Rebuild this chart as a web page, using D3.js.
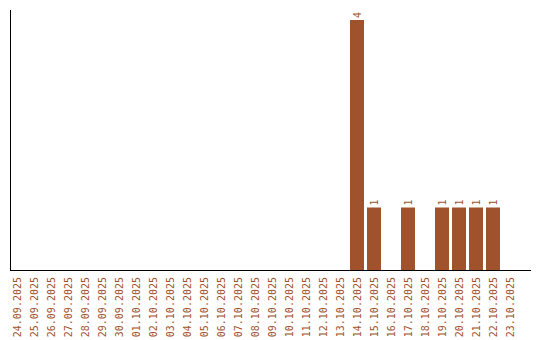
<!DOCTYPE html>
<html>
<head>
<meta charset="utf-8">
<script src="https://cdn.jsdelivr.net/npm/d3@7"></script>
<style>
  html, body { margin: 0; padding: 0; background: #fff; }
  text { font-family: "DejaVu Sans Mono", monospace; font-size: 10px; fill: #a0522d; }
</style>
</head>
<body>
<div id="chart"></div>
<script>
const dates = [
    "24.09.2025", "25.09.2025", "26.09.2025", "27.09.2025", "28.09.2025",
    "29.09.2025", "30.09.2025", "01.10.2025", "02.10.2025", "03.10.2025",
    "04.10.2025", "05.10.2025", "06.10.2025", "07.10.2025", "08.10.2025",
    "09.10.2025", "10.10.2025", "11.10.2025", "12.10.2025", "13.10.2025",
    "14.10.2025", "15.10.2025", "16.10.2025", "17.10.2025", "18.10.2025",
    "19.10.2025", "20.10.2025", "21.10.2025", "22.10.2025", "23.10.2025"
];
const counts = [
    0, 0, 0, 0, 0, 0, 0, 0, 0, 0,
    0, 0, 0, 0, 0, 0, 0, 0, 0, 0,
    4, 1, 0, 1, 0, 1, 1, 1, 1, 0
];

const svgWidth = 540;
const svgHeight = 340;
const plot = { left: 10, top: 10, bottom: 270, axisEnd: 531, bandEnd: 517 };
const barColor = "#a0522d";

const data = dates.map((d, i) => ({ date: d, count: counts[i] }));

const svg = d3.select("#chart")
    .append("svg")
    .attr("width", svgWidth)
    .attr("height", svgHeight);

const xScale = d3.scaleBand()
    .domain(dates)
    .range([plot.left, plot.bandEnd])
    .paddingInner(3 / 17)
    .paddingOuter(0);

const yScale = d3.scaleLinear()
    .domain([0, d3.max(counts) * 1.04])
    .range([plot.bottom, plot.top]);

// Bars
svg.selectAll("rect.bar")
    .data(data.filter(d => d.count > 0))
    .join("rect")
    .attr("class", "bar")
    .attr("x", d => xScale(d.date))
    .attr("y", d => yScale(d.count))
    .attr("width", xScale.bandwidth())
    .attr("height", d => plot.bottom - yScale(d.count))
    .style("fill", barColor);

// Value labels
svg.selectAll("text.value")
    .data(data.filter(d => d.count > 0))
    .join("text")
    .attr("class", "value")
    .attr("transform", d => `translate(${xScale(d.date) + xScale.bandwidth() / 2},${yScale(d.count) - 2}) rotate(-90)`)
    .attr("text-anchor", "start")
    .attr("dy", "0.35em")
    .text(d => d.count);

// Y axis line
svg.append("line")
    .attr("x1", plot.left + 0.5).attr("x2", plot.left + 0.5)
    .attr("y1", plot.top).attr("y2", plot.bottom + 1)
    .style("stroke", "#000");

// X axis line
svg.append("line")
    .attr("x1", plot.left).attr("x2", plot.axisEnd)
    .attr("y1", plot.bottom + 0.5).attr("y2", plot.bottom + 0.5)
    .style("stroke", "#000");

// Date labels
svg.selectAll("text.date")
    .data(dates)
    .join("text")
    .attr("class", "date")
    .attr("transform", d => `translate(${xScale(d) + xScale.bandwidth() / 2},${plot.bottom + 7}) rotate(-90)`)
    .attr("text-anchor", "end")
    .attr("dy", "0.35em")
    .text(d => d);
</script>
</body>
</html>
